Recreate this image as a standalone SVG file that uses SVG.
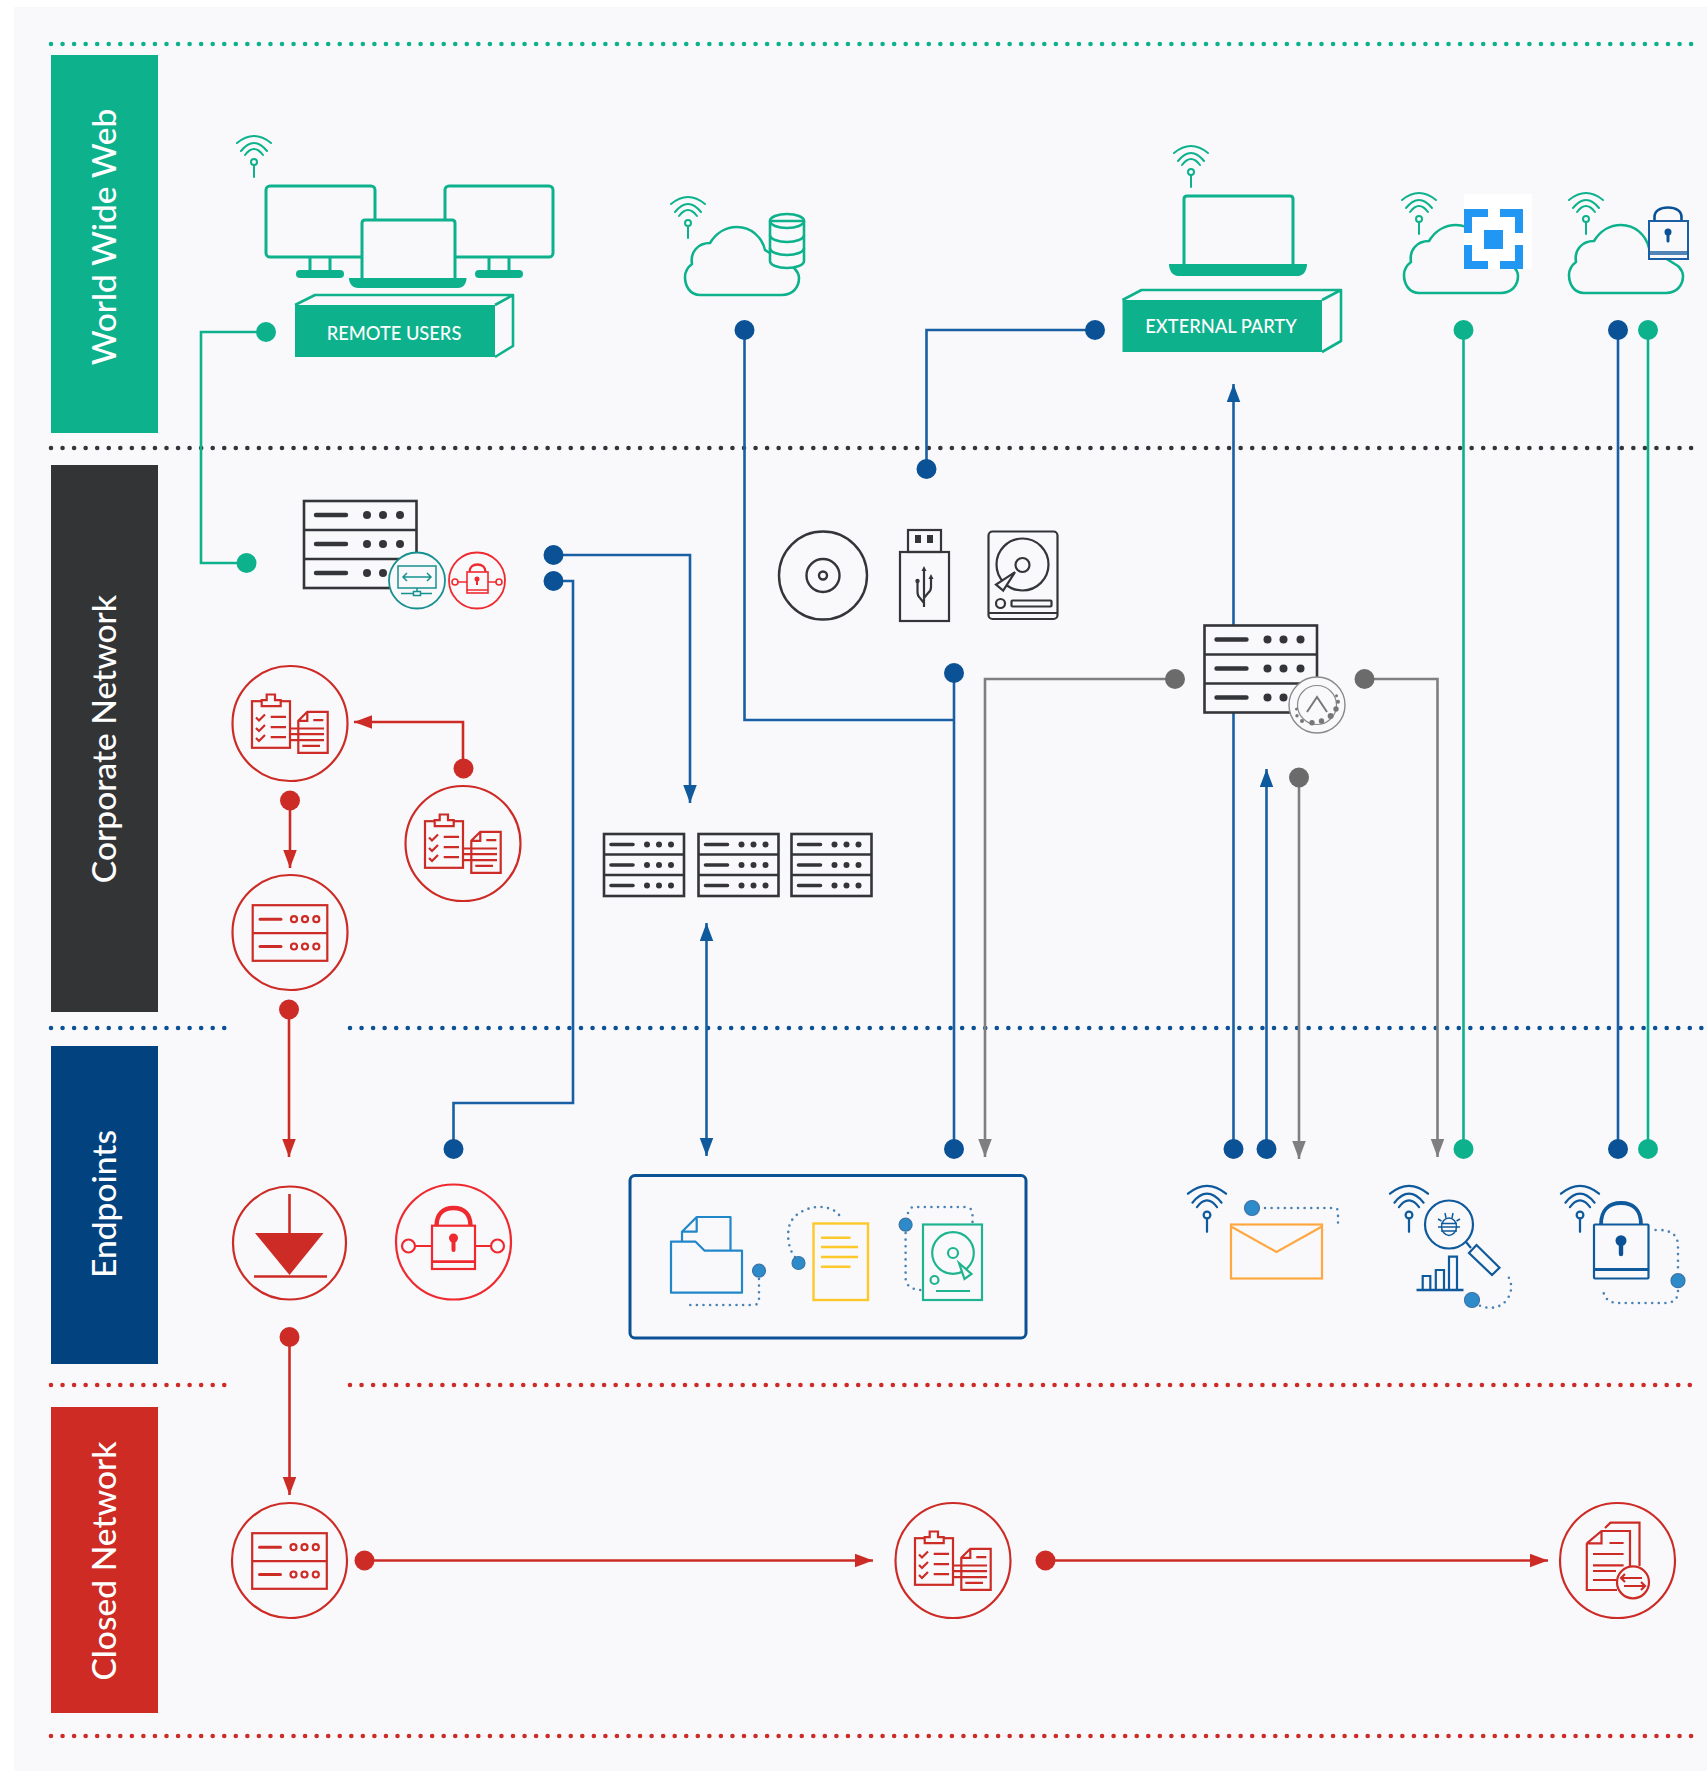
<svg xmlns="http://www.w3.org/2000/svg" xmlns:xlink="http://www.w3.org/1999/xlink" width="1707" height="1771" viewBox="0 0 1707 1771">
<style>
text{font-family:Lato,"Open Sans","Liberation Sans",sans-serif}
.band{font-size:33.6px;fill:#fff;text-anchor:middle;font-weight:500}
.boxt{font-size:18.3px;fill:#fff;text-anchor:middle;font-weight:500}
.dl{fill:none;stroke-width:4.6;stroke-linecap:round;stroke-dasharray:0 11.55}
.c{fill:none;stroke-width:2.6}
.cg{stroke:#0db28d}.cb{stroke:#1a5fa3}.cy{stroke:#7f7f7f}.cr{stroke:#cd2b26}
.dg{fill:#0db28d}.db{fill:#0a5195}.dy{fill:#6b6b6b}.dr{fill:#cd2b26}
.gl{fill:none;stroke:#0db28d;stroke-width:2.6;stroke-linejoin:round}
.bgf{fill:#f9f9fb}
.rk{fill:#f9f9fb;stroke:#333538;stroke-width:2.6}
.rkb{stroke:#333538;stroke-width:4.4;stroke-linecap:round;fill:none}
.rki{fill:#333538}
.dk{fill:none;stroke:#333538;stroke-width:2.2}
.red{fill:none;stroke:#cd2b26;stroke-width:2.2}
.nv{fill:none;stroke:#0f5a9c;stroke-width:2.2}
.dot{fill:none;stroke:#4a82b5;stroke-width:2.6;stroke-linecap:round;stroke-dasharray:0 6.6}
.bd{fill:#2e8bc9;stroke:#3a74a8;stroke-width:1.2}
</style>
<defs>
<marker id="aG" markerUnits="userSpaceOnUse" markerWidth="18" markerHeight="14" refX="18" refY="6.75" orient="auto-start-reverse"><path d="M0,0L18,6.75L0,13.5Z" fill="#7f7f7f"/></marker>
<marker id="aB" markerUnits="userSpaceOnUse" markerWidth="18" markerHeight="14" refX="18" refY="6.75" orient="auto-start-reverse"><path d="M0,0L18,6.75L0,13.5Z" fill="#0f5a9c"/></marker>
<marker id="aR" markerUnits="userSpaceOnUse" markerWidth="18" markerHeight="14" refX="18" refY="6.75" orient="auto-start-reverse"><path d="M0,0L18,6.75L0,13.5Z" fill="#cd2b26"/></marker>
<g id="wifi" fill="none" stroke-width="2" stroke-linecap="round">
<path d="M-17,-19Q0,-33 17,-19M-13,-11Q0,-27 13,-11M-9,-7Q0,-19 9,-7"/>
<circle r="3"/><path d="M0,3V15"/>
</g>
<path id="cloud" class="gl" d="M700,295C690,295 685,286 685,277C685,271 688,267 692,264C690,252 698,243 710,243C716,233 726,227 737,227C751,227 762,237 765,250L794,268C798,272 799,275 799,278C799,288 792,295 782,295Z"/>
<g id="rack">
<rect class="rk" x="304" y="501" width="112.500" height="87"/>
<path class="rk" d="M304,530H416.500M304,559H416.500"/>
<path class="rkb" d="M316,515H346M316,544H346M316,573H346"/>
<g class="rki"><circle cx="367" cy="515" r="4"/><circle cx="383" cy="515" r="4"/><circle cx="400" cy="515" r="4"/><circle cx="367" cy="544" r="4"/><circle cx="383" cy="544" r="4"/><circle cx="400" cy="544" r="4"/><circle cx="367" cy="573" r="4"/><circle cx="383" cy="573" r="4"/><circle cx="400" cy="573" r="4"/></g>
</g>
<g id="rackS">
<rect class="rk" x="604" y="834" width="80" height="62"/>
<path class="rk" d="M604,854.500H684M604,875H684"/>
<path class="rkb" d="M611,844.500H633M611,865H633M611,885.500H633" style="stroke-width:3.6"/>
<g class="rki"><circle cx="647" cy="844.500" r="3"/><circle cx="659" cy="844.500" r="3"/><circle cx="671" cy="844.500" r="3"/><circle cx="647" cy="865" r="3"/><circle cx="659" cy="865" r="3"/><circle cx="671" cy="865" r="3"/><circle cx="647" cy="885.500" r="3"/><circle cx="659" cy="885.500" r="3"/><circle cx="671" cy="885.500" r="3"/></g>
</g>
<g id="clip" class="red">
<circle r="57.500"/>
<rect x="-38" y="-22.300" width="38" height="46.600"/>
<path class="bgf" style="stroke:#cd2b26" d="M-28.300,-17.300V-23.300H-23.300V-29H-15V-23.300H-9.300V-17.300Z"/>
<path d="M-34,-6l3,3l6,-6M-34,4.500l3,3l6,-6M-34,14.500l3,3l6,-6M-19.300,-6.700H-4M-19.300,3.700H-4M-19.300,13.700H-4"/>
<path d="M17.300,-11.700H37.700V29.300H8.300V-2.700ZM17.300,-11.700V-2.700H8.300M0,5H34M0,10.700H34M0,16.700H34M12.300,22.300H30M23.300,-3.300H33.300"/>
</g>
<g id="srvC" class="red">
<circle r="57.500"/>
<rect x="-37.300" y="-27.300" width="74.600" height="55.600"/>
<path d="M-37.300,0.700H37.300"/>
<path d="M-30,-13.300H-9M-30,14H-9" stroke-width="3" stroke-linecap="round"/>
<g stroke-width="2.200"><circle cx="4" cy="-13.300" r="3"/><circle cx="15" cy="-13.300" r="3"/><circle cx="26.300" cy="-13.300" r="3"/><circle cx="4" cy="14" r="3"/><circle cx="15" cy="14" r="3"/><circle cx="26.300" cy="14" r="3"/></g>
</g>
</defs>
<rect id="page" x="14" y="7" width="1693" height="1764" fill="#f9f9fb"/>

<g id="lanes">
<line class="dl" x1="51" y1="44" x2="1699" y2="44" stroke="#0db28d"/>
<line class="dl" x1="51" y1="448" x2="1700" y2="448" stroke="#333538"/>
<path class="dl" d="M51,1028H234M350,1028H1712" stroke="#0a5195"/>
<path class="dl" d="M51,1385H230M350,1385H1696" stroke="#cd2b26"/>
<line class="dl" x1="51" y1="1736" x2="1699" y2="1736" stroke="#cd2b26"/>
</g>

<g id="band-www"><rect x="51" y="55" width="107" height="378" fill="#0db28d"/><text class="band" transform="translate(116,237) rotate(-90)">World Wide Web</text></g>
<g id="band-corp"><rect x="51" y="465" width="107" height="547" fill="#333436"/><text class="band" transform="translate(116,739) rotate(-90)">Corporate Network</text></g>
<g id="band-end"><rect x="51" y="1046" width="107" height="318" fill="#02437f"/><text class="band" transform="translate(116,1204) rotate(-90)">Endpoints</text></g>
<g id="band-closed"><rect x="51" y="1407" width="107" height="306" fill="#cd2b24"/><text class="band" transform="translate(116,1561) rotate(-90)">Closed Network</text></g>

<g id="connectors">
<path class="c cg" d="M266,332H201V563H246"/>
<path class="c cg" d="M1463.500,330V1149M1648,330V1149"/>
<path class="c cb" d="M744.500,330V720H954M954,673V1149M1095,330H926.500V469M1618,330V1149"/>
<path class="c cb" d="M553.500,555H690V803" marker-end="url(#aB)"/>
<path class="c cb" d="M553.500,581H573V1103H453.500V1149"/>
<path class="c cb" d="M706.500,923V1156" marker-start="url(#aB)" marker-end="url(#aB)"/>
<path class="c cb" d="M1233.500,1149V384" marker-end="url(#aB)"/>
<path class="c cb" d="M1266.500,1149V769" marker-end="url(#aB)"/>
<path class="c cy" d="M1299,777V1159" marker-end="url(#aG)"/>
<path class="c cy" d="M1175,679H985V1157" marker-end="url(#aG)"/>
<path class="c cy" d="M1364.500,679H1437.500V1157" marker-end="url(#aG)"/>
<path class="c cr" d="M463,768V722H354" marker-end="url(#aR)"/>
<path class="c cr" d="M290,800V868" marker-end="url(#aR)"/>
<path class="c cr" d="M289,1009V1157" marker-end="url(#aR)"/>
<path class="c cr" d="M289.500,1337V1495" marker-end="url(#aR)"/>
<path class="c cr" d="M364.500,1560.500H873" marker-end="url(#aR)"/>
<path class="c cr" d="M1045.500,1560.500H1548" marker-end="url(#aR)"/>
<g id="connector-dots">
<circle class="dg" cx="266" cy="332" r="10"/><circle class="dg" cx="246.500" cy="563" r="10"/><circle class="dg" cx="1463.500" cy="330" r="10"/><circle class="dg" cx="1463.500" cy="1149" r="10"/><circle class="dg" cx="1648" cy="330" r="10"/><circle class="dg" cx="1648" cy="1149" r="10"/>
<circle class="db" cx="744.500" cy="330" r="10"/><circle class="db" cx="1095" cy="330" r="10"/><circle class="db" cx="926.500" cy="469" r="10"/><circle class="db" cx="954" cy="673" r="10"/><circle class="db" cx="954" cy="1149" r="10"/><circle class="db" cx="1618" cy="330" r="10"/><circle class="db" cx="1618" cy="1149" r="10"/><circle class="db" cx="553.500" cy="555" r="10"/><circle class="db" cx="553.500" cy="581" r="10"/><circle class="db" cx="453.500" cy="1149" r="10"/><circle class="db" cx="1233.500" cy="1149" r="10"/><circle class="db" cx="1266.500" cy="1149" r="10"/>
<circle class="dy" cx="1299" cy="777.500" r="10"/><circle class="dy" cx="1175" cy="679" r="10"/><circle class="dy" cx="1364.500" cy="679" r="10"/>
<circle class="dr" cx="463.500" cy="768.500" r="10"/><circle class="dr" cx="290" cy="800.500" r="10"/><circle class="dr" cx="289" cy="1009.500" r="10"/><circle class="dr" cx="289.500" cy="1337" r="10"/><circle class="dr" cx="364.500" cy="1560.500" r="10"/><circle class="dr" cx="1045.500" cy="1560.500" r="10"/>
</g>
</g>

<g id="remote-users">
<use href="#wifi" x="254" y="162" stroke="#0db28d"/>
<rect class="gl" x="266" y="186" width="109" height="71" rx="4" style="stroke-width:3"/>
<rect class="gl" x="445" y="186" width="108" height="71" rx="4" style="stroke-width:3"/>
<path class="gl" d="M310,257V272M330,257V272M489,257V272M509,257V272" style="stroke-width:3"/>
<rect x="296" y="270" width="48" height="8" rx="4" fill="#0db28d"/><rect x="475" y="270" width="48" height="8" rx="4" fill="#0db28d"/>
<path class="bgf" style="stroke:#0db28d;stroke-width:3" d="M362,278V223Q362,220 365,220H452Q455,220 455,223V278"/>
<path d="M349,278H466.500C466.500,284 463,288 458,288H358C353,288 349,284 349,278Z" fill="#0db28d"/>
<path class="gl" d="M295,305L315,295H513L495,305M513,295V346L495,357"/>
<rect x="295" y="305" width="200" height="52" fill="#0db28d"/>
<text class="boxt" x="394" y="340">REMOTE USERS</text>
</g>

<g id="cloud-db">
<use href="#wifi" x="688" y="223" stroke="#0db28d"/>
<use href="#cloud"/>
<path class="gl" style="fill:#f9f9fb" d="M770,221V261C770,265 778,268 787,268C796,268 804,265 804,261V221Z"/>
<ellipse class="gl" cx="787" cy="221" rx="17" ry="7"/>
<path class="gl" d="M770,235C770,239 778,242 787,242C796,242 804,239 804,235M770,248C770,252 778,255 787,255C796,255 804,252 804,248"/>
</g>

<g id="external-party">
<use href="#wifi" x="1191" y="172" stroke="#0db28d"/>
<path class="gl" style="stroke-width:3" d="M1184,264V199Q1184,196 1187,196H1290Q1293,196 1293,199V264"/>
<path d="M1169,264H1307C1307,271 1303,276 1298,276H1178C1173,276 1169,271 1169,264Z" fill="#0db28d"/>
<path class="gl" d="M1122.500,300L1141.500,290H1341L1322,300M1341,290V341L1322,352"/>
<rect x="1122.500" y="300" width="199.500" height="52" fill="#0db28d"/>
<text class="boxt" x="1221" y="333">EXTERNAL PARTY</text>
</g>

<g id="cloud-scan">
<use href="#wifi" x="1419" y="219" stroke="#0db28d"/>
<use href="#cloud" x="719" y="-2"/>
<rect x="1464" y="194" width="68" height="75" fill="#fff"/>
<path d="M1464,209H1488V217H1472V233H1464ZM1500,209H1523V233H1515V217H1500ZM1464,245H1472V261H1488V269H1464ZM1515,245H1523V269H1500V261H1515Z" fill="#2196f3"/>
<rect x="1484" y="230" width="19" height="19" fill="#2196f3"/>
</g>

<g id="cloud-lock">
<use href="#wifi" x="1586" y="219" stroke="#0db28d"/>
<use href="#cloud" x="884" y="-2"/>
<path d="M1654.500,222V217C1654.500,211 1660,207.500 1668,207.500C1676,207.500 1681.500,211 1681.500,217V222" fill="none" stroke="#0a5195" stroke-width="2.600"/>
<rect class="bgf" x="1649" y="221" width="39" height="38" style="stroke:#1a5fa3;stroke-width:2"/>
<path d="M1649,252H1688M1649,254H1688" stroke="#1a5fa3" stroke-width="1.500" fill="none"/>
<circle cx="1668" cy="232" r="3.500" fill="#0a5195"/><path d="M1668,232V241" stroke="#0a5195" stroke-width="3" stroke-linecap="round"/>
</g>

<g id="corp-server">
<use href="#rack"/>
<circle class="bgf" cx="417" cy="580.500" r="28" style="stroke:#17918f;stroke-width:1.800"/>
<g fill="none" stroke="#17918f" stroke-width="1.500"><rect x="398" y="566" width="38" height="22"/><path d="M403,577H431M407,573l-4,4l4,4M427,573l4,4l-4,4M417,588V592M401,593.500H432"/></g>
<rect x="413.500" y="591.500" width="7" height="4" fill="#f9f9fb" stroke="#17918f" stroke-width="1.500"/>
<circle class="bgf" cx="477" cy="580.500" r="28" style="stroke:#ee2a30;stroke-width:1.800"/>
<g fill="none" stroke="#ee2a30" stroke-width="1.600"><rect x="467" y="572" width="21" height="21"/><path d="M467,590H488M467,582H458M488,582H496"/><circle cx="455" cy="582" r="3"/><circle cx="499" cy="582" r="3"/><path d="M469.500,572C469.500,567 473,564.500 477.500,564.500C482,564.500 485.500,567 485.500,572" stroke-width="2.400"/></g>
<circle cx="477" cy="579" r="2.500" fill="#ee2a30"/><path d="M477,579V585" stroke="#ee2a30" stroke-width="2"/>
</g>

<g id="media-cd" class="dk" style="stroke-width:2.400"><circle cx="823" cy="575.500" r="44"/><circle cx="823" cy="575.500" r="16.500"/><circle cx="823" cy="575.500" r="4"/></g>
<g id="media-usb" class="dk">
<rect x="900" y="552" width="49" height="69"/><rect x="908" y="530" width="33" height="22"/>
<rect x="915" y="535" width="6" height="8" fill="#333538" stroke="none"/><rect x="927" y="535" width="6" height="8" fill="#333538" stroke="none"/>
<path d="M924,570V607M917.500,583V592Q917.500,596 920,598L924,603M931,579V587Q931,591 928,593L924,598"/>
<path d="M924,566l-2.500,5h5ZM931,574l-2.500,5h5Z" fill="#333538" stroke="none"/><circle cx="917.500" cy="581" r="2.200" fill="#333538" stroke="none"/>
</g>
<g id="media-hdd" class="dk">
<rect x="988.500" y="531.500" width="69" height="87.500" rx="4"/><circle cx="1022.500" cy="564.500" r="26"/><circle cx="1022.500" cy="565" r="7"/>
<path class="bgf" style="stroke:#333538" d="M1015,572.200L996,584.500L1003.200,590.500Z"/>
<circle cx="1000.500" cy="603.500" r="4.500"/><rect x="1011.500" y="600.500" width="40" height="6" rx="1"/><path d="M988.500,613H1057.500"/>
</g>

<g id="server-farm"><use href="#rackS"/><use href="#rackS" x="94.500"/><use href="#rackS" x="187.500"/></g>

<g id="server-gateway">
<use href="#rack" x="900.500" y="124.500"/>
<circle class="bgf" cx="1317" cy="705" r="28" style="stroke:#8a8a8a;stroke-width:1.400"/>
<circle cx="1317" cy="705" r="19.500" fill="none" stroke="#8a8a8a" stroke-width="1.200"/>
<path d="M1307,712L1317,697L1327,712" fill="none" stroke="#777" stroke-width="2"/>
<g fill="#777" transform="translate(-1,0)"><circle cx="1297.500" cy="709" r="1.500"/><circle cx="1298" cy="715.700" r="1.700"/><circle cx="1303" cy="721" r="2"/><circle cx="1313" cy="722.700" r="2.700"/><circle cx="1322.500" cy="721" r="2.700"/><circle cx="1331.600" cy="716" r="3"/><circle cx="1337" cy="709" r="2.700"/><circle cx="1339" cy="701.700" r="2"/><circle cx="1337.500" cy="695.700" r="1.500"/></g>
</g>

<g id="corp-policy-1"><use href="#clip" x="290" y="723.500"/></g>
<g id="corp-policy-2"><use href="#clip" x="463" y="843.500"/></g>
<g id="corp-server-red"><use href="#srvC" x="290" y="932.500"/></g>

<g id="endpoint-diode" class="red">
<circle cx="289.500" cy="1243" r="56.500"/>
<path d="M289.500,1194V1233M254,1276.500H327" stroke-width="2.600"/>
<path d="M255,1233H323.500L289.500,1275Z" fill="#cd2b26" stroke="none"/>
</g>
<g id="endpoint-lock" fill="none" stroke="#ee2a30" stroke-width="2.200">
<circle cx="453.500" cy="1242" r="57.500"/>
<rect x="432" y="1225.700" width="43" height="43.300"/><path d="M432,1261.700H475" stroke-width="2.800"/>
<path d="M436.500,1226C436.500,1214 443,1208 453.500,1208C464,1208 470.500,1214 470.500,1226" stroke-width="4.400"/>
<path d="M432,1246H415M475,1246H491"/><circle cx="408.500" cy="1246" r="6.500"/><circle cx="497.500" cy="1246" r="6.500"/>
<circle cx="453.500" cy="1238" r="4.500" fill="#ee2a30" stroke="none"/><path d="M453.500,1238V1250" stroke-width="4" stroke-linecap="round"/>
</g>

<g id="endpoint-box">
<rect x="630" y="1175.500" width="396" height="162.500" rx="5" fill="none" stroke="#0a5195" stroke-width="3"/>
<g fill="none" stroke="#2287c9" stroke-width="2.200" stroke-linejoin="round">
<path d="M671,1241.700H695.600L704.700,1250.700H742V1292.700H671Z"/>
<path d="M682,1241.700V1231.700L696.700,1217H730.500V1250.700M696.700,1217V1231.700H682"/>
</g>
<path class="dot" d="M759,1279V1300Q759,1305 753,1305H685"/><circle class="bd" cx="759" cy="1270.700" r="6.500"/>
<g fill="none" stroke="#fdc92a" stroke-width="2.400"><rect x="813.500" y="1223.500" width="54.500" height="76.500"/><path d="M821,1237.700H850.500M821,1247H858M821,1257H858M821,1266.700H850.500"/></g>
<path class="dot" d="M795,1257C787,1248 786,1228 792,1220C798,1211 812,1206 822,1207C832,1208 838,1212 841,1218"/><circle class="bd" cx="798.500" cy="1263" r="6.500"/>
<g fill="none" stroke="#1fb48f" stroke-width="2.200"><rect x="923" y="1224.500" width="59" height="75.500"/><circle cx="953" cy="1253" r="20.800"/><circle cx="953" cy="1253" r="5"/><circle cx="934.500" cy="1280" r="4"/><path d="M936,1291H970"/><path d="M959,1263L971.500,1274L964.500,1279Z" fill="#f9f9fb"/></g>
<path class="dot" d="M908,1213Q910,1207 914,1207H964.500Q972.500,1207 972.500,1214V1223M905.600,1233V1278Q906,1289 920.500,1290"/><circle class="bd" cx="905.600" cy="1224.700" r="6.500"/>
</g>

<g id="endpoint-mail">
<use href="#wifi" transform="translate(1207,1215) scale(1.120)" stroke="#0f5a9c"/>
<g fill="none" stroke="#ffa841" stroke-width="2.200"><rect x="1231" y="1224.500" width="91" height="54"/><path d="M1231,1226.500L1276.500,1252L1322,1226.500"/></g>
<path class="dot" d="M1265,1208H1334Q1338,1208 1338,1212V1228"/><circle class="bd" cx="1252" cy="1208" r="7.500"/>
</g>

<g id="endpoint-bug">
<use href="#wifi" transform="translate(1409,1215) scale(1.120)" stroke="#0f5a9c"/>
<g class="nv"><circle cx="1449" cy="1224.500" r="24"/><path d="M1466,1242L1471,1248"/><path d="M1476.500,1245L1499.500,1267.700L1492,1275L1469,1253Z"/>
<path d="M1416.500,1290H1463.500" stroke-width="2.600"/><path d="M1422.700,1290V1276H1430.300V1290M1435.800,1290V1270H1444V1290M1449,1290V1256.700H1457V1290"/>
<g stroke-width="1.500"><ellipse cx="1449" cy="1226.700" rx="7.500" ry="8.700"/><path d="M1441,1223.500H1457M1438,1227H1460M1441,1231H1457M1446,1218L1445,1213M1452,1218L1453,1213M1441.500,1221L1438,1219M1456.500,1221L1460,1219"/></g></g>
<path class="dot" d="M1480,1305.700C1490,1310 1502,1308 1508,1298C1513,1290 1512,1280 1505.600,1273"/><circle class="bd" cx="1472" cy="1300" r="7.500"/>
</g>

<g id="endpoint-lock-blue">
<use href="#wifi" transform="translate(1580,1215) scale(1.120)" stroke="#0f5a9c"/>
<g class="nv"><rect x="1594" y="1224.500" width="54.500" height="54" rx="1"/><path d="M1594,1269.500H1648.500" stroke-width="2.800"/><path d="M1601,1224.500C1601,1210 1609,1203 1621,1203C1633,1203 1641,1210 1641,1224.500" stroke-width="3.800"/></g>
<circle cx="1621" cy="1240.700" r="5.500" fill="#0a5195"/><path d="M1621,1241V1254" stroke="#0a5195" stroke-width="4.400" stroke-linecap="round"/>
<path class="dot" d="M1655.600,1230Q1678,1229 1678,1246V1272M1678,1291Q1678,1303 1665,1303H1618Q1605,1303 1603,1290"/><circle class="bd" cx="1678" cy="1280.700" r="7"/>
</g>

<g id="closed-server"><use href="#srvC" x="289.500" y="1560.500"/></g>
<g id="closed-policy"><use href="#clip" x="953" y="1560.500"/></g>
<g id="closed-docs" class="red">
<circle cx="1617.500" cy="1560.500" r="57.500"/>
<path d="M1605,1528L1610.500,1522.700H1639.500V1566"/>
<path d="M1586.800,1543.300L1601.500,1531H1630V1567M1586.800,1543.300V1590H1617M1601.500,1531V1543.300H1586.800M1609.500,1543H1623.600M1593,1554H1623.600M1593,1565.300H1623.600M1593,1571H1616M1593,1580H1616"/>
<circle class="bgf" cx="1633" cy="1582.300" r="16" style="stroke:#cd2b26"/>
<path d="M1621,1578H1642M1625,1574l-4,4l4,4M1624,1586H1645M1641,1582l4,4l-4,4"/>
</g>
</svg>
